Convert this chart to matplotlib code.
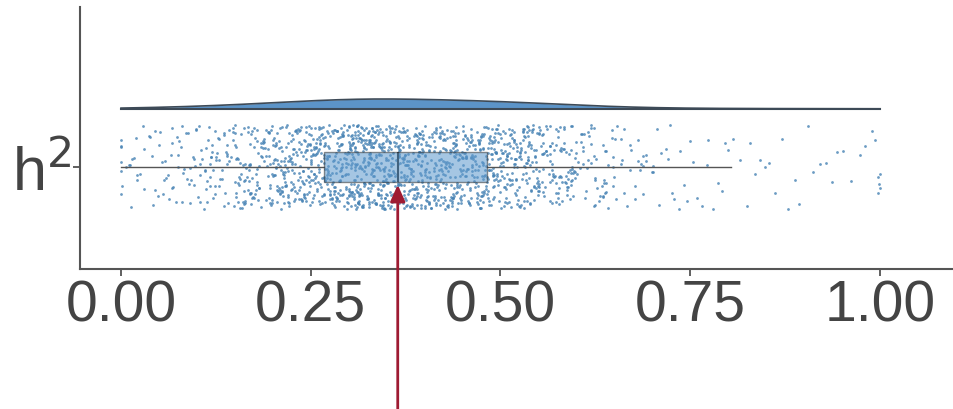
import numpy as np
import matplotlib.pyplot as plt

# h2 estimates: counts per 0.05 bin, read from the dot density
bin_edges = [0.00, 0.05, 0.10, 0.15, 0.20, 0.25, 0.30, 0.35, 0.40, 0.45,
             0.50, 0.55, 0.60, 0.65, 0.70, 0.75, 0.80, 0.85, 0.90, 0.95, 1.00]
bin_counts = [22, 35, 60, 95, 150, 185, 250, 200, 175, 175,
              145, 95, 50, 25, 14, 9, 8, 6, 6, 6]
n_at_zero = 5
n_at_one = 5
tick_values = [0.00, 0.25, 0.50, 0.75, 1.00]
tick_labels = ["0.00", "0.25", "0.50", "0.75", "1.00"]
label = "h$^2$"

plt.rcParams['font.family'] = ['Liberation Sans', 'DejaVu Sans']

# spread each bin's points across the bin
vals = [0.0] * n_at_zero
for lo, hi, n in zip(bin_edges[:-1], bin_edges[1:], bin_counts):
    vals += [lo + (k + 0.5) / n * (hi - lo) for k in range(n)]
vals += [1.0] * n_at_one
vals = np.array(vals)

# vertical jitter (layout only, deterministic hash)
idx = np.arange(len(vals))
h = np.sin(idx * 12.9898 + 78.233) * 43758.5453
jit = (h - np.floor(h)) * 0.84 - 0.42
# small horizontal wobble inside the bin so dots don't line up
h2 = np.sin(idx * 39.3468 + 11.135) * 24634.6345
xj = vals + ((h2 - np.floor(h2)) - 0.5) * 0.006
xj = np.clip(xj, 0, 1)

fig = plt.figure(figsize=(9.54, 4.10), dpi=100)
ax = fig.add_axes([80 / 954, 140 / 410, 874 / 954, 262 / 410])

blue = '#4682b4'
grey = '#444444'

ax.scatter(xj, jit, s=4, color=blue, alpha=0.8, linewidths=0, zorder=2)

bp = ax.boxplot(vals, vert=False, positions=[0], widths=0.30, patch_artist=True,
                showfliers=False, showcaps=False,
                boxprops=dict(facecolor='#5b97cc', alpha=0.55, edgecolor='#333333', linewidth=1),
                medianprops=dict(color='#222222', linewidth=1.5),
                whiskerprops=dict(color='#555555', linewidth=1))
for b in bp['boxes']:
    b.set_zorder(3)

# half violin from a gaussian kde
xs = np.linspace(0, 1, 400)
bw = 0.07
dens = np.exp(-0.5 * ((xs[:, None] - vals[None, :]) / bw) ** 2).sum(axis=1)
dens = dens / dens.max() * 0.10
base = 0.58
ax.fill_between(xs, base, base + dens, color='#4a88c2', alpha=0.9, linewidth=0, zorder=2)
ax.plot(xs, base + dens, color='#3d4a57', linewidth=1.2, zorder=3)
ax.plot([0, 1], [base, base], color='#3d4a57', linewidth=1.5, zorder=3)

ax.set_xlim(-0.054, 1.0975)
ax.set_ylim(-1.02, 1.60)
ax.set_xticks(tick_values)
ax.set_xticklabels(tick_labels)
ax.set_yticks([0])
ax.set_yticklabels([label])
ax.tick_params(axis='x', labelsize=41, colors=grey, length=5, width=1.2, pad=2)
ax.tick_params(axis='y', labelsize=44, colors=grey, length=5, width=1.2, pad=1)
for s in ['top', 'right']:
    ax.spines[s].set_visible(False)
for s in ['left', 'bottom']:
    ax.spines[s].set_color('#555555')
    ax.spines[s].set_linewidth(1.5)

# arrow to the median
med = np.median(vals)
ax.annotate('', xy=(med, -0.15), xycoords='data',
            xytext=(med, -2.45), textcoords='data',
            arrowprops=dict(arrowstyle='-|>,head_length=1.0,head_width=0.45',
                            color='#9e1b32', linewidth=2), annotation_clip=False)

fig.savefig('out.png', dpi=100)
